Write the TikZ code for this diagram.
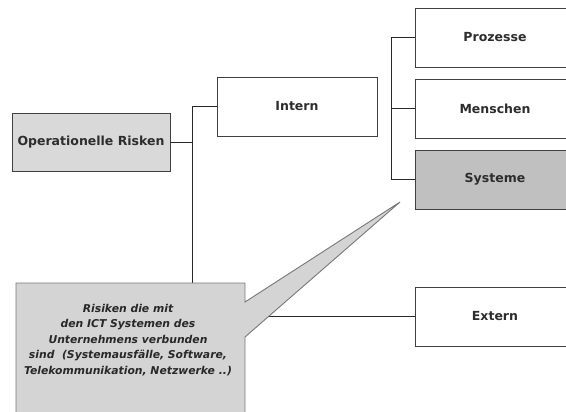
\documentclass[tikz,border=0pt]{standalone}
\usepackage{fontspec}
\setmainfont{DejaVu Sans}
\begin{document}
\begin{tikzpicture}[x=1pt,y=-1pt]

    \tikzset{
      box/.style={
        draw={rgb,255:red,64;green,64;blue,64},
        fill=white,
        line width=0.9pt,
        minimum width=160pt,
        minimum height=59pt,
        inner sep=0pt,
        font=\fontsize{12.5}{14}\selectfont\bfseries,
        text={rgb,255:red,45;green,45;blue,45},
      },
      link/.style={
        draw={rgb,255:red,40;green,40;blue,40},
        line width=0.9pt,
      },
    }
    \useasboundingbox (0,0) rectangle (566,412);
    \clip (0,0) rectangle (566,412);
	\node[box,fill={rgb,255:red,217;green,217;blue,217},minimum width=158pt,minimum height=58pt] (risk) at (91,142) {Operationelle Risken};
	\node[box] (intern) at (297,106.5) {Intern};
	\node[box] (prozesse) at (495,37.5) {Prozesse};
	\node[box] (menschen) at (495,108.5) {Menschen};
	\node[box,fill={rgb,255:red,192;green,192;blue,192}] (systeme) at (495,179.5) {Systeme};
	\node[box] (extern) at (495,316.5) {Extern};
	\coordinate (trunk) at (192,316.5);
	\coordinate (branch) at (391,179.5);
	\draw[link] (risk.east) -- (risk.east -| trunk);
	\draw[link] (intern.west) -| (trunk) |- (extern.west);
	\draw[link] (prozesse.west) -| (branch) |- (systeme.west);
	\draw[link] (menschen.west) -- (menschen.west -| branch);
	\coordinate (tip) at (400,202);
	\draw[draw={rgb,255:red,120;green,120;blue,120},line width=0.9pt,fill={rgb,255:red,212;green,212;blue,212}] (16,283)--(245,283)--(245,302)--(tip)--(245,337)--(245,420)--(16,420)--cycle;
	\node[align=center,text={rgb,255:red,40;green,40;blue,40},font=\fontsize{10.8}{15.5}\selectfont\bfseries\itshape] (note) at (128,340) {Risiken die mit\\den ICT Systemen des\\Unternehmens verbunden\\sind\ \ (Systemausfälle, Software,\\Telekommunikation, Netzwerke ..)};

\end{tikzpicture}
\end{document}
